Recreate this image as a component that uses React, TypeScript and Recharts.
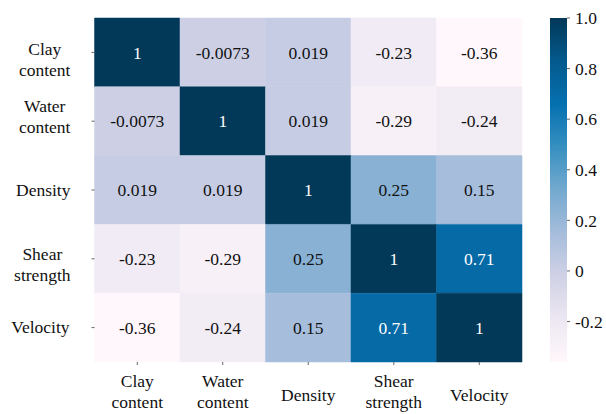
import React from "react";
import {
  ComposedChart,
  XAxis,
  YAxis,
  Scatter,
  ReferenceArea,
  Label,
} from "recharts";

// ---- data -------------------------------------------------------------
const variables = ["Clay\ncontent", "Water\ncontent", "Density", "Shear\nstrength", "Velocity"];

const clayRow = [1, -0.0073, 0.019, -0.23, -0.36];
const waterRow = [-0.0073, 1, 0.019, -0.29, -0.24];
const densityRow = [0.019, 0.019, 1, 0.25, 0.15];
const shearRow = [-0.23, -0.29, 0.25, 1, 0.71];
const velocityRow = [-0.36, -0.24, 0.15, 0.71, 1];
const matrix = [clayRow, waterRow, densityRow, shearRow, velocityRow];

const colorMin = -0.36;
const colorMax = 1;
const colorbarTicks = [-0.2, 0, 0.2, 0.4, 0.6, 0.8, 1.0];
const colorbarTickLabels = ["-0.2", "0", "0.2", "0.4", "0.6", "0.8", "1.0"];

// ---- styling ----------------------------------------------------------
const FONT = '"Liberation Serif", "Times New Roman", Tinos, serif';
const FONT_SIZE = 17.5;
const PUBU = ["#fff7fb", "#ece7f2", "#d0d1e6", "#a6bddb", "#74a9cf", "#3690c0", "#0570b0", "#045a8d", "#023858"];
const N = variables.length;
const CB_LEFT = 5.327;
const CB_RIGHT = 5.526;

const sheet = `
#root .heatmap-root svg text,
#root .heatmap-root svg text tspan {
  font-family: "Liberation Serif", "Times New Roman", Tinos, serif !important;
  font-size: ${FONT_SIZE}px !important;
}
`;

const hexToRgb = (h: string) => [1, 3, 5].map((i) => parseInt(h.slice(i, i + 2), 16));

function pubu(v: number) {
  const t = Math.min(1, Math.max(0, (v - colorMin) / (colorMax - colorMin)));
  const pos = t * (PUBU.length - 1);
  const i = Math.min(PUBU.length - 2, Math.floor(pos));
  const f = pos - i;
  const a = hexToRgb(PUBU[i]);
  const b = hexToRgb(PUBU[i + 1]);
  const c = a.map((x, k) => Math.round(x + (b[k] - x) * f));
  return { css: `rgb(${c[0]},${c[1]},${c[2]})`, rgb: c };
}

function luminance(rgb: number[]) {
  const lin = rgb.map((x) => {
    const s = x / 255;
    return s <= 0.03928 ? s / 12.92 : Math.pow((s + 0.055) / 1.055, 2.4);
  });
  return 0.2126 * lin[0] + 0.7152 * lin[1] + 0.0722 * lin[2];
}

// approximate Times-style advance widths (em) for centring multi-line labels
const GLYPH_EM: Record<string, number> = {
  C: 0.667, W: 0.944, D: 0.722, S: 0.556, V: 0.722,
  a: 0.444, c: 0.444, e: 0.444, g: 0.5, h: 0.5, i: 0.278, l: 0.278,
  n: 0.5, o: 0.5, r: 0.333, s: 0.389, t: 0.278, y: 0.5,
};
const textWidth = (s: string) =>
  s.split("").reduce((w, ch) => w + (GLYPH_EM[ch] ?? 0.5), 0) * FONT_SIZE;

const cellPoints = matrix.flatMap((row, i) => row.map((v, j) => ({ x: j + 0.5, y: i + 0.5, v })));
const axisTicks = variables.map((_, i) => i + 0.5);

// first-line baseline offset of each row label relative to its tick
const rowLabelLead = [3, -9, 5.5, 1, 5.5];
const LINE_GAP = 21;
const textStyle = { fontFamily: FONT, fontSize: FONT_SIZE };

const RowTick = (props: any) => {
  const { x, y, index } = props;
  const lines = variables[index].split("\n");
  const right = x - 19;
  const blockW = Math.max(...lines.map(textWidth));
  const cx = right - blockW / 2;
  return (
    <g>
      {lines.map((ln, k) => (
        <text
          key={k}
          x={cx}
          y={y + rowLabelLead[index] + k * LINE_GAP}
          textAnchor="middle"
          style={textStyle}
          fill="#111"
        >
          {ln}
        </text>
      ))}
    </g>
  );
};

const ColTick = (props: any) => {
  const { x, y, index } = props;
  const lines = variables[index].split("\n");
  const first = lines.length > 1 ? 20 : 33.5;
  return (
    <g>
      {lines.map((ln, k) => (
        <text
          key={k}
          x={x}
          y={y + first + k * LINE_GAP}
          textAnchor="middle"
          style={textStyle}
          fill="#111"
        >
          {ln}
        </text>
      ))}
    </g>
  );
};

export default function App() {
  return (
    <div className="heatmap-root" style={{ position: "absolute", left: 0, top: 0, background: "#fff" }}>
      <style>{sheet}</style>
      <ComposedChart width={606} height={414} margin={{ top: 18, right: 0, bottom: 0, left: 0 }}>
        <defs>
          <linearGradient id="pubuBar" x1="0" y1="1" x2="0" y2="0">
            {PUBU.map((c, i) => (
              <stop key={i} offset={`${(i / (PUBU.length - 1)) * 100}%`} stopColor={c} />
            ))}
          </linearGradient>
        </defs>
        <XAxis
          type="number"
          dataKey="x"
          domain={[0, CB_RIGHT]}
          ticks={axisTicks}
          interval={0}
          allowDataOverflow
          axisLine={false}
          tickLine={{ stroke: "#666" }}
          tickSize={3}
          height={52}
          tick={<ColTick />}
        />
        <YAxis
          yAxisId="cells"
          type="number"
          dataKey="y"
          domain={[0, N]}
          reversed
          ticks={axisTicks}
          interval={0}
          allowDataOverflow
          axisLine={false}
          tickLine={{ stroke: "#666" }}
          tickSize={3}
          width={94.5}
          tick={<RowTick />}
        />
        <YAxis
          yAxisId="cb"
          orientation="right"
          type="number"
          domain={[colorMin, colorMax]}
          ticks={colorbarTicks}
          interval={0}
          allowDataOverflow
          axisLine={false}
          tickLine={{ stroke: "#666" }}
          tickSize={3}
          tickMargin={5}
          width={39}
          tick={{ fill: "#111", style: textStyle }}
          tickFormatter={(v: number) => colorbarTickLabels[colorbarTicks.indexOf(v)] ?? String(v)}
        />
        {cellPoints.map((p, k) => {
          const col = pubu(p.v);
          const txt = luminance(col.rgb) < 0.408 ? "#ffffff" : "#111111";
          return (
            <ReferenceArea
              key={k}
              yAxisId="cells"
              x1={p.x - 0.5}
              x2={p.x + 0.5}
              y1={p.y - 0.5}
              y2={p.y + 0.5}
              fill={col.css}
              fillOpacity={1}
              stroke={col.css}
              strokeWidth={0.5}
              ifOverflow="visible"
              label={
                <Label
                  value={String(p.v)}
                  position="center"
                  fill={txt}
                  style={textStyle}
                />
              }
            />
          );
        })}
        <ReferenceArea
          yAxisId="cb"
          x1={CB_LEFT}
          x2={CB_RIGHT}
          y1={colorMin}
          y2={colorMax}
          fill="url(#pubuBar)"
          fillOpacity={1}
          ifOverflow="visible"
        />
        <Scatter
          yAxisId="cells"
          data={cellPoints}
          dataKey="y"
          isAnimationActive={false}
          shape={() => <g />}
        />
      </ComposedChart>
    </div>
  );
}
